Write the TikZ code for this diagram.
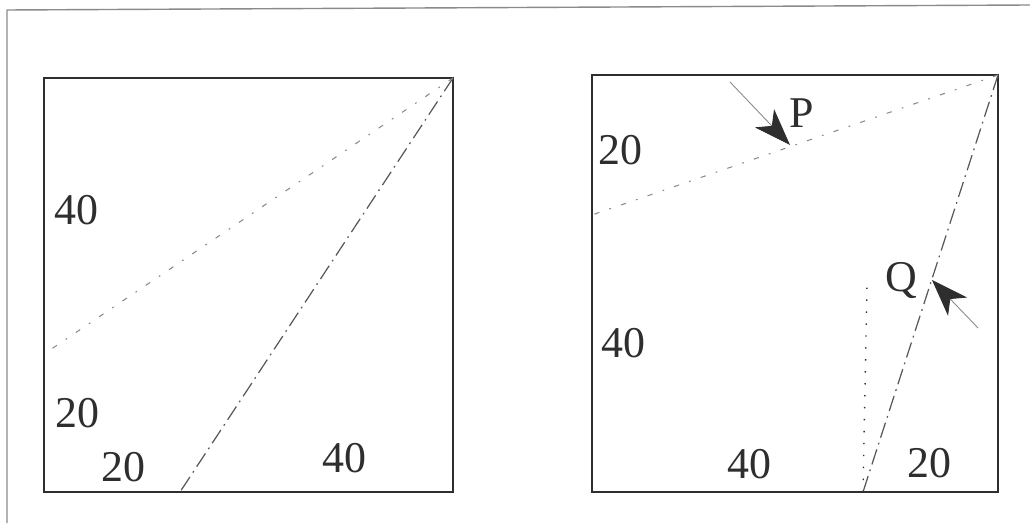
\documentclass[tikz,border=0pt]{standalone}
\usepackage{fontspec}
\newfontfamily\lblfont{Liberation Serif}
\usetikzlibrary{arrows.meta}
\definecolor{ink}{HTML}{2E2E2E}
\definecolor{faint}{HTML}{8A8A8A}
\tikzset{
  boxline/.style={draw=ink, line width=1.1pt},
  frameline/.style={draw=faint, line width=0.8pt},
  foldA/.style={draw=ink!80, line width=0.7pt, dash pattern=on 9pt off 3pt on 1pt off 3pt},
  foldB/.style={draw=faint, line width=0.6pt, dash pattern=on 3pt off 6pt on 1pt off 6pt},
  vdots/.style={draw=ink, line width=0.8pt, dash pattern=on 0.8pt off 6pt},
  lbl/.style={text=ink, font=\lblfont\fontsize{25}{25}\selectfont, inner sep=0pt},
  ptr/.style={draw=faint, line width=0.5pt, -{Stealth[length=21pt,width=15pt,inset=6pt,color=ink,fill=ink]}},
}
\begin{document}
\begin{tikzpicture}[x=0.02cm,y=-0.02cm]
\useasboundingbox (0,0) rectangle (1030,523);
% outer frame (partially visible)
\coordinate (f1) at (7,523);
\coordinate (f2) at (7,10);
\coordinate (f3) at (1030,5);
\draw[frameline] (f1) -- (f2) -- (f3);
% left square
\coordinate (a1) at (44,78);
\coordinate (a2) at (453,78);
\coordinate (a3) at (453,492);
\coordinate (a4) at (44,492);
\coordinate (ab) at (180,492);
\coordinate (al) at (44,354);
\draw[boxline] (a1) -- (a2) -- (a3) -- (a4) -- cycle;
\draw[foldA] (a2) -- (ab);
\draw[foldB] (a2) -- (al);
\node[lbl] (l40a) at (76,210) {40};
\node[lbl] (l20a) at (77,413) {20};
\node[lbl] (l20b) at (123,467) {20};
\node[lbl] (l40b) at (344,458) {40};
% right square
\coordinate (b1) at (592,75);
\coordinate (b2) at (998,75);
\coordinate (b3) at (998,492);
\coordinate (b4) at (592,492);
\coordinate (bb) at (863,492);
\coordinate (bl) at (592,215);
\coordinate (bv) at (867,285);
\draw[boxline] (b1) -- (b2) -- (b3) -- (b4) -- cycle;
\draw[foldA] (b2) -- (bb);
\draw[foldB] (b2) -- (bl);
\draw[vdots] (bb) -- (bv);
\node[lbl] (r20a) at (620,150) {20};
\node[lbl] (rP) at (802,113) {P};
\node[lbl] (rQ) at (901,281) {Q};
\node[lbl] (r40a) at (623,343) {40};
\node[lbl] (r40b) at (749,464) {40};
\node[lbl] (r20b) at (929,463) {20};
% pointer arrows
\coordinate (pt) at (730,82);
\coordinate (ph) at (790,145);
\coordinate (qt) at (978,328);
\coordinate (qh) at (932,280);
\draw[ptr] (pt) -- (ph);
\draw[ptr] (qt) -- (qh);
\end{tikzpicture}
\end{document}
